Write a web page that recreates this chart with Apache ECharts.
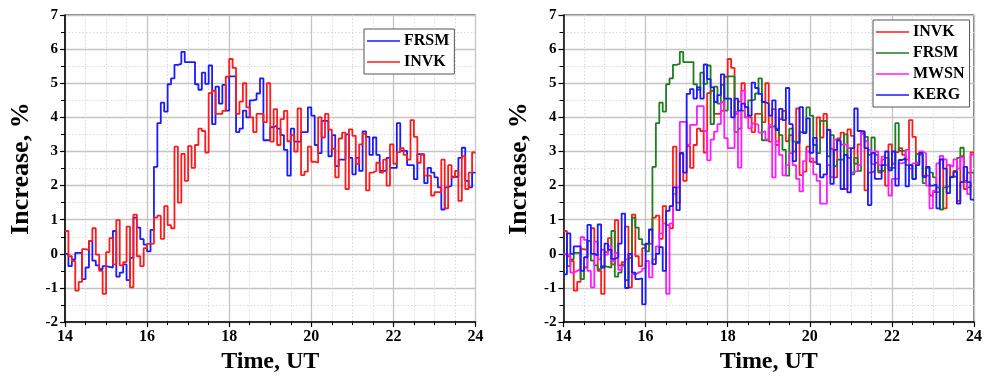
<!DOCTYPE html>
<html>
<head>
<meta charset="utf-8">
<script src="https://cdn.jsdelivr.net/npm/echarts@6/dist/echarts.min.js"></script>
<style>
  html, body { margin: 0; padding: 0; background: #fff; }
  #left  { position: absolute; left: 0;     top: 0; width: 494px; height: 379px; }
  #right { position: absolute; left: 494px; top: 0; width: 495px; height: 379px; }
</style>
</head>
<body>
<div id="left"></div>
<div id="right"></div>
<script>
// 5-minute cosmic-ray increase (%) at four stations, 14–24 UT
const startHour = 14;
const stepMinutes = 5;

const frsm = [
  0.0, -0.36, -0.16, 0.03, 0.03, -0.74, -0.4, 0.38, -0.2, -0.34, -0.45, -0.36, -0.38, -0.4, 0.67, -0.67,
  -0.55, -0.31, -0.77, -0.12, 1.06, 0.77, 0.43, 0.27, 0.07, 0.7,
  2.55, 3.83, 4.43, 4.17, 4.97, 5.14, 5.54, 5.57, 5.92, 5.62, 5.62, 5.62, 4.97, 4.81, 5.31, 4.98, 5.52,
  3.8, 4.9, 4.4, 4.95, 4.2, 5.2, 5.2, 3.57, 3.67, 4.2, 4.0, 4.5, 4.52, 4.7, 5.14, 3.33, 3.33, 3.71,
  3.76, 3.67, 3.48, 3.05, 2.29, 3.67, 3.29, 3.29, 3.57, 3.57, 4.29, 4.05, 3.19, 2.95, 3.9, 3.9,
  2.86, 3.48, 2.57, 2.76, 2.76, 3.5, 2.81, 2.33, 2.81, 2.43, 3.59, 3.43, 2.9, 3.41, 2.9, 2.43,
  2.43, 2.81, 2.52, 2.52, 3.83, 3.02, 3.02, 2.6, 2.6, 2.19, 2.92, 2.92, 2.07, 2.52, 2.38, 2.24,
  1.95, 1.3, 1.95, 2.0, 2.26, 2.26, 2.81, 3.11, 2.14, 1.95, 2.38
];

const invk = [
  0.67, -0.07, -0.21, -1.08, -0.82, 0.14, 0.12, 0.38, 0.75, -0.02, -0.5, -1.17, 0.05, 0.46, -0.31, 0.99,
  -0.34, -0.24, 0.8, -0.98, 1.15, -0.07, -0.36, 0.17, 0.29, 0.3, 1.06, 1.12, 0.44, 1.4, 0.84, 0.75,
  3.14, 1.5, 2.93, 2.14, 3.16, 2.52, 3.19, 3.67, 3.6, 2.97,
  4.71, 4.78, 4.1, 4.1, 4.19, 5.19, 5.71, 5.45, 4.1, 4.46,
  5.0, 4.29, 4.0, 3.57, 4.1, 4.1, 3.86, 5.0, 3.29,
  4.24, 3.19, 3.95, 4.19, 3.3, 3.48, 3.0, 4.26, 2.31, 2.41,
  3.14, 2.7, 2.67, 4.0, 3.41, 4.1, 3.64, 3.08, 2.24, 3.38,
  3.55, 1.9, 3.65, 3.46, 2.64, 3.21, 3.52, 1.86, 2.38, 2.43,
  2.67, 2.38, 2.76, 2.0, 3.21, 2.64, 2.98, 3.1, 2.9, 2.76,
  3.92, 3.43, 2.67, 2.9, 2.29, 2.29, 1.71, 1.81, 1.81, 2.76,
  1.33, 2.6, 2.24, 2.43, 1.55, 2.86, 1.9, 2.38, 2.97
];

const mwsn = [
  0.0, -0.05, -0.55, -0.5, -0.45, 0.49, 0.41, -0.5, -0.98, 0.36, -0.16, 0.12, -0.02, 0.22, -0.21, 0.03,
  -0.47, -0.35, -0.16, -0.02, -0.6, -0.55, -0.5, -0.43, -0.21, -0.69, -0.16, 0.22, 0.6, 0.89, -1.17, 0.89,
  1.75, 1.95,
  3.87, 3.87, 3.2, 3.78, 3.78, 4.33, 4.33, 3.6, 2.74, 3.35, 3.58, 3.8, 4.45,
  3.39, 3.1, 3.1, 4.16, 2.53, 4.78, 4.0, 3.68, 3.82, 3.78, 3.55, 3.6, 3.35, 3.78, 2.24, 3.3,
  2.9, 2.3, 2.6, 2.95, 2.6, 2.2, 1.83,
  2.72, 3.0, 2.8, 2.33, 2.14, 1.47, 1.47, 2.6, 2.25, 3.35, 3.3, 3.2, 3.2, 3.1, 2.39, 2.44,
  2.6, 3.59, 3.3, 3.05, 2.63,
  3.0, 2.6, 2.85, 2.6, 1.71, 2.2, 2.2, 2.65, 2.7, 3.05, 2.5, 2.65, 2.65, 3.0, 2.95, 2.0,
  1.33, 1.85, 2.65, 2.87, 2.77, 2.6, 2.55, 2.77, 2.5, 2.83, 2.1, 1.75, 2.9
];

const kerg = [
  -0.6, 0.6, 0.0, 0.22, 0.22, -0.5, -0.1, 0.85, 0.0, -0.05, 0.86, -0.4, 0.3, 0.12, -0.15, -0.1,
  0.3, 1.18, -1.0, 0.0, -0.55, -0.74, -0.72, -1.48, 0.3, 0.72, -0.3, 0.0, 0.2, -0.5, 1.26, 1.4,
  1.95, 1.28, 2.96, 2.38,
  4.69, 4.83, 4.55, 4.88, 4.55, 5.55, 5.12, 4.88, 4.45, 4.65, 5.26,
  4.55, 4.55, 4.0, 4.55, 4.2, 4.4, 4.3, 4.05, 5.02, 4.86, 4.69, 4.45, 4.4, 4.05, 4.5, 3.63,
  4.25, 3.92, 4.86, 3.8, 2.72, 3.25,
  4.3, 3.54, 3.97, 2.96, 3.4, 2.63, 2.24, 2.33, 3.63, 2.05, 3.05, 3.33, 1.9, 2.9, 1.8, 3.1,
  4.26, 3.6, 3.58, 3.1, 1.43, 2.96,
  2.2, 2.2, 2.6, 3.0, 2.45, 3.0, 2.0, 2.75, 2.8, 1.98, 2.6, 2.2, 2.6, 2.96, 2.25, 2.55,
  2.0, 2.03, 1.33, 2.77, 2.5, 1.78, 2.25, 2.4, 1.47, 2.1, 2.55, 2.1, 1.59
];

const timeRange = [14, 24];
const timeInterval = 2;
const increaseRange = [-2, 7];
const increaseInterval = 1;

const colors = { INVK: '#ff1a1a', FRSM: '#1a1aff', MWSN: '#ff1aff', KERG: '#1a1aff' };
const frsmRight = '#1e7d1e';

const FONT = "'Liberation Serif', 'Times New Roman', serif";

// [hour, value] pairs; a closing point keeps the last 5-min step drawn to its end
function toSteps(values) {
  const pts = values.map((v, i) => [startHour + i * stepMinutes / 60, v]);
  pts.push([startHour + values.length * stepMinutes / 60, values[values.length - 1]]);
  return pts;
}

function stepSeries(name, values, color) {
  return {
    name: name,
    type: 'line',
    step: 'end',
    symbol: 'none',
    data: toSteps(values),
    lineStyle: { color: color, width: 1.8 },
    itemStyle: { color: color },
    emphasis: { disabled: true },
    silent: true
  };
}

function panel(gridLeft, gridWidth, legendLeft, legendTop, legendNames, series) {
  return {
    animation: false,
    backgroundColor: '#fff',
    grid: {
      left: gridLeft, top: 15, width: gridWidth, height: 312.5,
      show: true, borderColor: '#000', borderWidth: 1, backgroundColor: 'transparent'
    },
    xAxis: {
      type: 'value',
      min: timeRange[0], max: timeRange[1], interval: timeInterval,
      name: 'Time, UT', nameLocation: 'middle', nameGap: 26,
      nameTextStyle: { fontFamily: FONT, fontWeight: 'bold', fontSize: 24, color: '#000' },
      axisLine: { show: true, onZero: false, lineStyle: { color: '#000', width: 1.5 } },
      axisTick: { show: true, length: 5, lineStyle: { color: '#000', width: 1.2 } },
      minorTick: { show: true, splitNumber: 4, length: 3, lineStyle: { color: '#000', width: 1 } },
      axisLabel: { fontFamily: FONT, fontWeight: 'bold', fontSize: 16, color: '#000', margin: 7 },
      splitLine: { show: true, lineStyle: { color: '#c4c4c4', width: 1.3 } },
      minorSplitLine: { show: true, lineStyle: { color: '#d8d8d8', width: 1, type: [1.5, 2] } }
    },
    yAxis: {
      type: 'value',
      min: increaseRange[0], max: increaseRange[1], interval: increaseInterval,
      name: 'Increase, %', nameLocation: 'middle', nameGap: 31, nameRotate: 90,
      nameTextStyle: { fontFamily: FONT, fontWeight: 'bold', fontSize: 26, color: '#000' },
      axisLine: { show: true, onZero: false, lineStyle: { color: '#000', width: 1.5 } },
      axisTick: { show: true, length: 5, lineStyle: { color: '#000', width: 1.2 } },
      minorTick: { show: true, splitNumber: 2, length: 4, lineStyle: { color: '#000', width: 1 } },
      axisLabel: { fontFamily: FONT, fontWeight: 'bold', fontSize: 15, color: '#000', margin: 7 },
      splitLine: { show: true, lineStyle: { color: '#c4c4c4', width: 1.3 } },
      minorSplitLine: { show: true, lineStyle: { color: '#d8d8d8', width: 1, type: [1.5, 2] } }
    },
    legend: {
      orient: 'vertical',
      left: legendLeft, top: legendTop,
      data: legendNames,
      icon: 'rect', itemWidth: 33, itemHeight: 1.5, itemGap: 3,
      padding: [3, 5, 3, 3],
      borderColor: '#555', borderWidth: 1, backgroundColor: '#fff',
      selectedMode: false,
      textStyle: { fontFamily: FONT, fontWeight: 'bold', fontSize: 16, color: '#000', lineHeight: 18, padding: [0, 0, 0, -1] }
    },
    series: series
  };
}

const leftChart = echarts.init(document.getElementById('left'), null, { renderer: 'canvas' });
leftChart.setOption(panel(63.5, 412, 364, 29, ['FRSM', 'INVK'], [
  stepSeries('FRSM', frsm, colors.FRSM),
  stepSeries('INVK', invk, colors.INVK)
]));

const rightChart = echarts.init(document.getElementById('right'), null, { renderer: 'canvas' });
rightChart.setOption(panel(69.5, 410.5, 379, 20, ['INVK', 'FRSM', 'MWSN', 'KERG'], [
  stepSeries('INVK', invk, colors.INVK),
  stepSeries('FRSM', frsm, frsmRight),
  stepSeries('MWSN', mwsn, colors.MWSN),
  stepSeries('KERG', kerg, colors.KERG)
]));
</script>
</body>
</html>
